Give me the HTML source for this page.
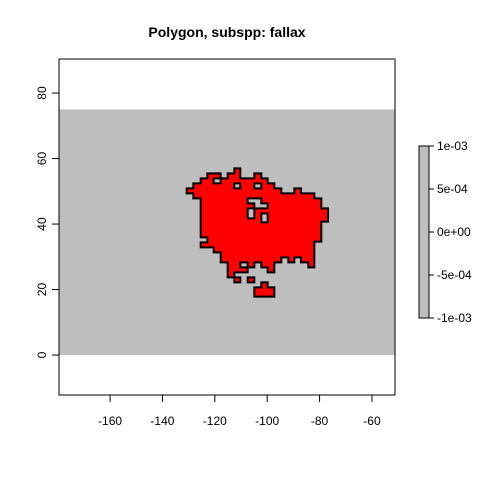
<!DOCTYPE html>
<html><head><meta charset="utf-8"><style>
body{margin:0;background:#fff;font-family:"Liberation Sans",sans-serif}
svg text{font-family:"Liberation Sans",sans-serif;font-size:12px}
</style></head><body>
<svg id="c" width="480" height="480">
<text x="227" y="37" text-anchor="middle" font-weight="bold" style="font-size:14px">Polygon, subspp: fallax</text>
<g id="plot"></g>
</svg>
<script>
const xTicks=[-160,-140,-120,-100,-80,-60];
const yTicks=[0,20,40,60,80];
const bandRange=[0,75];
const legendLabels=["1e-03","5e-04","0e+00","-5e-04","-1e-03"];
// polygon rings in zoom-grid units
const outer=[[163,25],[181,25],[181,55],[223,55],[223,40],[244,40],[244,55],[263,55],[263,70],[283,70],[283,85],[304,85],[304,100],[343,100],[343,85],[363,85],[363,100],[403,100],[403,115],[424,115],[424,145],[444,145],[444,185],[424,185],[424,245],[403,245],[403,322],[385,322],[385,307],[363,307],[363,292],[343,292],[343,307],[325,307],[325,292],[304,292],[304,307],[283,307],[283,337],[263,337],[263,322],[244,322],[244,307],[223,307],[223,322],[203,322],[203,337],[163,337],[163,352],[143,352],[143,307],[122,307],[122,277],[101,277],[101,262],[62,262],[62,247],[82,247],[82,232],[62,232],[62,115],[40,115],[40,100],[20,100],[20,85],[40,85],[40,70],[62,70],[62,55],[82,55],[82,40],[122,40],[122,55],[143,55],[143,40],[163,40]];
const holes=[[[101,55],[122,55],[122,70],[101,70]],[[163,70],[181,70],[181,85],[163,85]],[[223,70],[244,70],[244,85],[223,85]],[[203,115],[244,115],[244,130],[263,130],[263,145],[223,145],[223,130],[203,130]],[[203,145],[223,145],[223,175],[203,175]],[[244,160],[263,160],[263,187],[244,187]],[[181,307],[203,307],[203,322],[181,322]]];
const pieces=[[[163,352],[181,352],[181,367],[163,367]],[[203,352],[223,352],[223,367],[203,367]],[[223,382],[244,382],[244,367],[263,367],[263,382],[283,382],[283,410],[223,410]]];
const NS="http://www.w3.org/2000/svg";
const g=document.getElementById('plot');
const X0=59,X1=395,Y0=59,Y1=395;
const xmin=-179.5,xmax=-51.2,ymin=-12.2,ymax=90.4;
const sx=v=>X0+(v-xmin)/(xmax-xmin)*(X1-X0);
const sy=v=>Y1-(v-ymin)/(ymax-ymin)*(Y1-Y0);
function mk(t,a,p){const e=document.createElementNS(NS,t);for(const k in a)e.setAttribute(k,a[k]);(p||g).appendChild(e);return e;}
const band=mk('rect',{x:X0,y:sy(bandRange[1]),width:X1-X0,height:sy(bandRange[0])-sy(bandRange[1]),fill:'#bebebe'});


const ring=r=>'M'+r.map(p=>(180+p[0]/3).toFixed(2)+','+(160+p[1]/3).toFixed(2)).join('L')+'Z';
const poly=mk('path',{d:ring(outer)+holes.map(ring).join('')+pieces.map(ring).join(''),fill:'#ff0000','fill-rule':'evenodd',stroke:'#000','stroke-width':2});


const frame=mk('rect',{x:X0,y:Y0,width:X1-X0,height:Y1-Y0,fill:'none',stroke:'#000'});


xTicks.forEach(v=>{const x=sx(v);mk('line',{x1:x,x2:x,y1:Y1,y2:Y1+7,stroke:'#000'});
const t=mk('text',{x:x,y:Y1+30,'text-anchor':'middle'});t.textContent=v;

});
yTicks.forEach(v=>{const y=sy(v);mk('line',{x1:X0-7,x2:X0,y1:y,y2:y,stroke:'#000'});
const t=mk('text',{x:0,y:0,'text-anchor':'middle',transform:`translate(${X0-13},${y}) rotate(-90)`});t.textContent=v;

});
const lx=419,ly0=146,ly1=318;
const lg=mk('rect',{x:lx,y:ly0,width:10,height:ly1-ly0,fill:'#bebebe',stroke:'#000'});


legendLabels.forEach((s,i)=>{const y=ly0+i*(ly1-ly0)/(legendLabels.length-1);
mk('line',{x1:lx+10,x2:lx+15,y1:y,y2:y,stroke:'#000'});
const t=mk('text',{x:lx+18,y:y+4});t.textContent=s;

});
</script>
</body></html>
